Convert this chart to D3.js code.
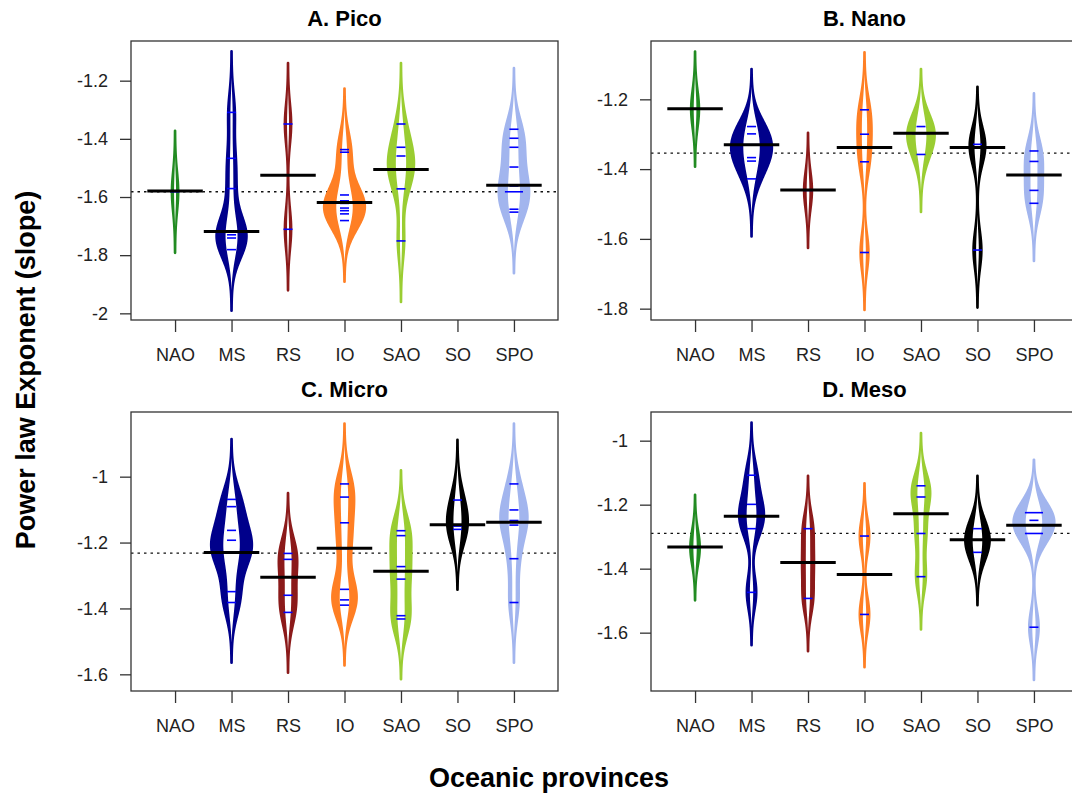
<!DOCTYPE html>
<html>
<head>
<meta charset="utf-8">
<script src="https://cdn.jsdelivr.net/npm/d3@7"></script>
<style>
body{margin:0;background:#fff;}
svg{display:block;font-family:"Liberation Sans",Arial,sans-serif;}
</style>
</head>
<body>
<div class="graph"></div>
<script>
const provinces = ["NAO","MS","RS","IO","SAO","SO","SPO"];
const beanColors = ["#228B22","#00008B","#8B1A1A","#FF7F24","#9ACD32","#000000","#A2B5EE"];

const picoObs = [
  [-1.582],
  [-1.309,-1.467,-1.571,-1.720,-1.720,-1.730,-1.741,-1.781],
  [-1.349,-1.711],
  [-1.437,-1.446,-1.593,-1.613,-1.622,-1.638,-1.647,-1.658,-1.681],
  [-1.349,-1.429,-1.459,-1.507,-1.507,-1.572,-1.751],
  [],
  [-1.367,-1.398,-1.429,-1.497,-1.562,-1.582,-1.582,-1.642,-1.652]
];
const picoMedian = [-1.579,-1.719,-1.525,-1.619,-1.505,null,-1.560];
const picoOverall = -1.582;

const nanoObs = [
  [-1.228],
  [-1.278,-1.299,-1.330,-1.330,-1.367,-1.377,-1.428],
  [-1.461],
  [-1.230,-1.300,-1.379,-1.639],
  [-1.278,-1.298,-1.298,-1.358],
  [-1.329,-1.338,-1.632],
  [-1.348,-1.378,-1.461,-1.498]
];
const nanoMedian = [-1.227,-1.330,-1.460,-1.338,-1.297,-1.338,-1.417];
const nanoOverall = -1.354;

const microObs = [
  [],
  [-1.069,-1.091,-1.163,-1.193,-1.230,-1.230,-1.230,-1.349,-1.382],
  [-1.233,-1.251,-1.360,-1.412],
  [-1.022,-1.062,-1.140,-1.218,-1.342,-1.374,-1.390],
  [-1.164,-1.179,-1.273,-1.311,-1.422,-1.432],
  [-1.071,-1.150,-1.160],
  [-1.022,-1.101,-1.133,-1.147,-1.249,-1.382]
];
const microMedian = [null,-1.230,-1.305,-1.217,-1.287,-1.146,-1.138];
const microOverall = -1.232;

const mesoObs = [
  [-1.334],
  [-1.108,-1.199,-1.236,-1.275,-1.474],
  [-1.275,-1.383,-1.493],
  [-1.298,-1.543],
  [-1.141,-1.176,-1.290,-1.425],
  [-1.275,-1.310,-1.349],
  [-1.225,-1.225,-1.249,-1.290,-1.290,-1.583]
];
const mesoMedian = [-1.332,-1.236,-1.381,-1.418,-1.228,-1.310,-1.264];
const mesoOverall = -1.290;

const picoTicks = [-2,-1.8,-1.6,-1.4,-1.2];
const nanoTicks = [-1.8,-1.6,-1.4,-1.2];
const microTicks = [-1.6,-1.4,-1.2,-1];
const mesoTicks = [-1.6,-1.4,-1.2,-1];

const width = 1072;
const height = 798;

var panels = [
  {title:"A. Pico", obs:picoObs, med:picoMedian, overall:picoOverall, ticks:picoTicks, bw:0.07,
   x0:131, x1:558, y0:41, y1:320, dom:[-2.0229,-1.0636]},
  {title:"B. Nano", obs:nanoObs, med:nanoMedian, overall:nanoOverall, ticks:nanoTicks, bw:0.055,
   x0:651, x1:1078, y0:41, y1:320, dom:[-1.8325,-1.0328]},
  {title:"C. Micro", obs:microObs, med:microMedian, overall:microOverall, ticks:microTicks, bw:0.061,
   x0:131, x1:558, y0:412, y1:691, dom:[-1.6506,-0.8037]},
  {title:"D. Meso", obs:mesoObs, med:mesoMedian, overall:mesoOverall, ticks:mesoTicks, bw:0.055,
   x0:651, x1:1078, y0:412, y1:691, dom:[-1.7823,-0.9104]}
];

var svg = d3.select(".graph")
  .append("svg")
  .attr("width", width)
  .attr("height", height);

var fmt = d => String(Math.round(d * 10) / 10);

panels.forEach(function(p){
  var x = d3.scalePoint().domain(provinces).range([p.x0, p.x1]).padding(0.78);
  var u = x.step();
  var y = d3.scaleLinear().domain(p.dom).range([p.y1, p.y0]);
  var g = svg.append("g");

  // overall line
  g.append("line")
    .attr("x1", p.x0).attr("x2", p.x1)
    .attr("y1", y(p.overall)).attr("y2", y(p.overall))
    .attr("stroke", "#111")
    .attr("stroke-width", 1.3)
    .attr("stroke-dasharray", "2.5,4");

  // kernel density per bean, weighted by count
  var beans = p.obs.map(function(o, i){
    if (!o.length) return null;
    var lo = d3.min(o) - 3 * p.bw, hi = d3.max(o) + 3 * p.bw;
    var pts = d3.range(0, 241).map(function(j){
      var v = lo + (hi - lo) * j / 240;
      return {v: v, d: d3.sum(o, xi => Math.exp(-0.5 * Math.pow((v - xi) / p.bw, 2)))};
    });
    return {name: provinces[i], obs: o, med: p.med[i], col: beanColors[i], pts: pts};
  }).filter(Boolean);

  var dmax = d3.max(beans, b => d3.max(b.pts, q => q.d));
  var w = d3.scaleLinear().domain([0, dmax]).range([0, 0.36 * u]);

  beans.forEach(function(b){
    var cx = x(b.name);
    var outer = d3.area()
      .y(q => y(q.v))
      .x0(q => cx - w(q.d))
      .x1(q => cx + w(q.d));
    var inner = d3.area()
      .y(q => y(q.v))
      .x0(q => cx - Math.max(0, 0.42 * w(q.d) - 0.3))
      .x1(q => cx + Math.max(0, 0.42 * w(q.d) - 0.3));

    g.append("path")
      .attr("d", outer(b.pts))
      .attr("fill", b.col)
      .attr("stroke", b.col)
      .attr("stroke-width", 2.6)
      .attr("stroke-linejoin", "round");
    g.append("path")
      .attr("d", inner(b.pts))
      .attr("fill", "#fff");

    var counts = d3.rollups(b.obs, v => v.length, d => d);
    g.selectAll(null)
      .data(counts)
      .enter()
      .append("line")
      .attr("x1", d => cx - 0.08 * u * d[1])
      .attr("x2", d => cx + 0.08 * u * d[1])
      .attr("y1", d => y(d[0]))
      .attr("y2", d => y(d[0]))
      .attr("stroke", "#0000FF")
      .attr("stroke-width", 1.6);

    g.append("line")
      .attr("x1", cx - 0.5 * u + 0.5)
      .attr("x2", cx + 0.5 * u - 0.5)
      .attr("y1", y(b.med))
      .attr("y2", y(b.med))
      .attr("stroke", "#000")
      .attr("stroke-width", 3);
  });

  // box
  g.append("rect")
    .attr("x", p.x0).attr("y", p.y0)
    .attr("width", p.x1 - p.x0).attr("height", p.y1 - p.y0)
    .attr("fill", "none")
    .attr("stroke", "#333")
    .attr("stroke-width", 1.3);

  var yAxis = d3.axisLeft(y).tickValues(p.ticks).tickFormat(fmt).tickSize(11).tickPadding(12);
  var ya = g.append("g")
    .attr("transform", "translate(" + p.x0 + ",0)")
    .call(yAxis);
  ya.select(".domain").remove();

  var xAxis = d3.axisBottom(x).tickSize(12).tickPadding(16);
  var xa = g.append("g")
    .attr("transform", "translate(0," + p.y1 + ")")
    .call(xAxis);
  xa.select(".domain").remove();

  svg.selectAll(".tick line").attr("stroke", "#333").attr("stroke-width", 1.3);
  svg.selectAll(".tick text").attr("font-size", 18).attr("fill", "#222")
    .attr("font-family", "Liberation Sans, Arial, sans-serif");

  g.append("text")
    .attr("x", (p.x0 + p.x1) / 2)
    .attr("y", p.y0 - 15)
    .attr("text-anchor", "middle")
    .attr("font-size", 22)
    .attr("font-weight", "bold")
    .text(p.title);
});

svg.append("text")
  .attr("x", 549)
  .attr("y", 787)
  .attr("text-anchor", "middle")
  .attr("font-size", 27)
  .attr("font-weight", "bold")
  .text("Oceanic provinces");

svg.append("text")
  .attr("transform", "translate(35,370) rotate(-90)")
  .attr("text-anchor", "middle")
  .attr("font-size", 27)
  .attr("font-weight", "bold")
  .text("Power law Exponent (slope)");
</script>
</body>
</html>
